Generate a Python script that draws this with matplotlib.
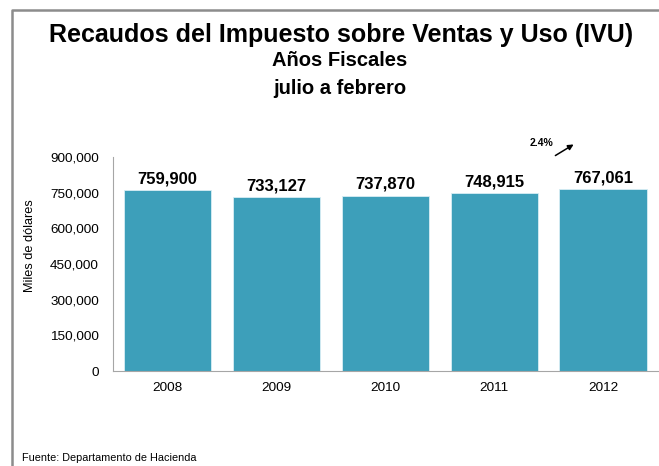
import matplotlib
matplotlib.use("Agg")
import matplotlib.pyplot as plt
from matplotlib.lines import Line2D
from matplotlib.patches import FancyArrowPatch
from matplotlib.ticker import FuncFormatter

years = ["2008", "2009", "2010", "2011", "2012"]
values = [759900, 733127, 737870, 748915, 767061]
yticks = [0, 150000, 300000, 450000, 600000, 750000, 900000]
growth_label = "2.4%"

plt.rcParams['font.family'] = ['Liberation Sans', 'DejaVu Sans']

W, H = 659, 466
fig = plt.figure(figsize=(W / 100, H / 100), dpi=100)

# border frame (top and left only visible)
fig.add_artist(Line2D([12 / W, 12 / W, 1.0], [0.0, 1 - 9.5 / H, 1 - 9.5 / H],
                      transform=fig.transFigure, color='#8c8c8c', linewidth=1.8))

ax = fig.add_axes([113 / W, (H - 371) / H, (657.5 - 113) / W, (371 - 157) / H])
x = range(len(years))
ax.bar(x, values, width=0.8, color='#3d9fba', edgecolor='#d8eef4', linewidth=0.6)
ax.set_xlim(-0.5, len(years) - 0.5)
ax.set_ylim(0, 900000)
ax.set_yticks(yticks)
ax.yaxis.set_major_formatter(FuncFormatter(lambda v, p: f"{int(v):,}"))
ax.set_xticks(list(x))
ax.set_xticklabels(years)
ax.tick_params(axis='both', length=0, labelsize=9.7, colors='black')
ax.tick_params(axis='y', pad=10)
ax.tick_params(axis='x', pad=8)
for s in ['top', 'right']:
    ax.spines[s].set_visible(False)
ax.spines['left'].set_color('#a6a6a6')
ax.spines['bottom'].set_color('#a6a6a6')
ax.spines['left'].set_linewidth(0.8)
ax.spines['bottom'].set_linewidth(0.8)

for i, v in enumerate(values):
    ax.text(i, v + 15000, f"{v:,}", ha='center', va='bottom', fontsize=12, fontweight='bold')

fig.text(30 / W, 1 - 246 / H, "Miles de dólares", rotation=90, ha='center', va='center',
         fontsize=9.2)

fig.text(341 / W, 1 - 35 / H, "Recaudos del Impuesto sobre Ventas y Uso (IVU)",
         ha='center', va='center', fontsize=18, fontweight='bold')
fig.text(340 / W, 1 - 61 / H, "Años Fiscales", ha='center', va='center',
         fontsize=14.5, fontweight='bold')
fig.text(340 / W, 1 - 88 / H, "julio a febrero", ha='center', va='center',
         fontsize=14.5, fontweight='bold')
fig.text(22 / W, 1 - 458 / H, "Fuente: Departamento de Hacienda", ha='left', va='center',
         fontsize=7.8)

fig.text(541 / W, 1 - 143 / H, growth_label, ha='center', va='center',
         fontsize=7.5, fontweight='bold')
fig.add_artist(FancyArrowPatch(
    (553 / W, 1 - 157 / H), (576 / W, 1 - 143 / H), transform=fig.transFigure,
    arrowstyle='-|>', mutation_scale=8, color='black', linewidth=1.1))

fig.savefig("out.png", dpi=100)
